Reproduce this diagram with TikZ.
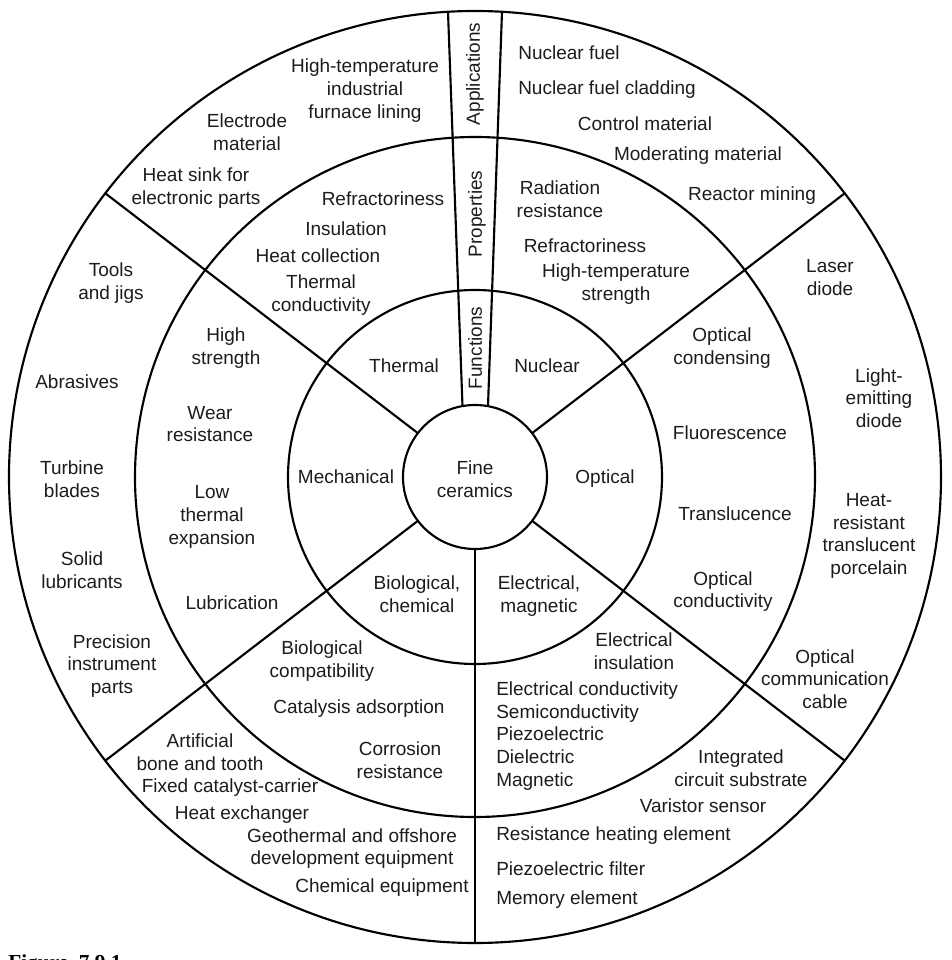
\documentclass[tikz,border=0pt]{standalone}
\usepackage{fontspec}
\setmainfont{Liberation Sans}
\newfontfamily\capfont{Liberation Serif}
\usepackage{xcolor}
\usepackage{tikz}
\definecolor{cink}{RGB}{28,28,28}
\tikzset{
  rim/.style={line width=1.6pt, color=black},
  lbl/.style={font=\fontsize{14.25}{17}\selectfont, text=cink,
              align=center, inner sep=0pt},
  lst/.style={lbl, align=left, anchor=west},
  band/.style={lbl, rotate=90},
  figcap/.style={font=\capfont\bfseries\fontsize{16}{19}\selectfont,
                 inner sep=0pt, anchor=base west},
}

\begin{document}
\begin{tikzpicture}[x=0.75pt, y=0.75pt]
  \useasboundingbox (-475,-483) rectangle (476,477);
  \clip (-475,-483) rectangle (476,477);

  % ── Rings ──────────────────────────────────────────────────────────────────
  \draw[rim] (0,0) circle[radius=72];
  \draw[rim] (0,0) circle[radius=187];
  \draw[rim] (0,0) circle[radius=340];
  \draw[rim] (0,0) circle[radius=466];

  % ── Sector dividers ────────────────────────────────────────────────────────
  \foreach \a in {37.5, 142.5, 217.5, 270, 322.5}
    \draw[rim] (\a:72) -- (\a:466);
  \draw[rim] (-12.5,70.9) -- (-27,465.2);
  \draw[rim] (13,70.8) -- (27,465.2);

  % ── Band labels ────────────────────────────────────────────────────────────
  \node[band] at (0,403) (appl) {Applications};
  \node[band] at (2,263) (prop) {Properties};
  \node[band] at (0,129) (func) {Functions};

  % ── Centre + functions ─────────────────────────────────────────────────────
  \node[lbl] at (0,-2)     (core)    {Fine\\ceramics};
  \node[lbl] at (-71,111)  (fthermal) {Thermal};
  \node[lbl] at (72,111)   (fnuclear) {Nuclear};
  \node[lbl] at (-129,0)   (fmech)   {Mechanical};
  \node[lbl] at (130,-2)   (foptic)  {Optical};
  \node[lbl] at (64,-119)  (felec)   {Electrical,\\magnetic};
  \node[lbl] at (-58,-117) (fbio)    {Biological,\\chemical};

  % ── Thermal ────────────────────────────────────────────────────────────────
  \node[lbl] at (-92,278)  (trefr)  {Refractoriness};
  \node[lbl] at (-129,248) (tinsul) {Insulation};
  \node[lbl] at (-157,221) (tcoll)  {Heat collection};
  \node[lbl] at (-154,182) (tcond)  {Thermal\\conductivity};
  \node[lbl] at (-110,386.5) (tfurn) {High-temperature\\industrial\\furnace lining};
  \node[lbl] at (-228,345) (telec)  {Electrode\\material};
  \node[lbl] at (-279,289) (tsink)  {Heat sink for\\electronic parts};

  % ── Nuclear ────────────────────────────────────────────────────────────────
  \node[lbl] at (85,277.5) (nrad)   {Radiation\\resistance};
  \node[lbl] at (110,231)  (nrefr)  {Refractoriness};
  \node[lbl] at (141,193)  (nhts)   {High-temperature\\strength};
  \node[lbl] at (94,424)   (nfuel)  {Nuclear fuel};
  \node[lbl] at (132,387)  (nclad)  {Nuclear fuel cladding};
  \node[lbl] at (170,353)  (nctrl)  {Control material};
  \node[lbl] at (223,321)  (nmod)   {Moderating material};
  \node[lbl] at (277,281)  (nmine)  {Reactor mining};

  % ── Optical ────────────────────────────────────────────────────────────────
  \node[lbl] at (247,129)  (ocond)  {Optical\\condensing};
  \node[lbl] at (255,44)   (ofluo)  {Fluorescence};
  \node[lbl] at (260,-37)  (otrans) {Translucence};
  \node[lbl] at (248,-114.5) (ocdv) {Optical\\conductivity};
  \node[lbl] at (355,199.5) (olaser) {Laser\\diode};
  \node[lbl] at (404,79)   (oled)   {Light-\\emitting\\diode};
  \node[lbl] at (394,-59)  (oporc)  {Heat-\\resistant\\translucent\\porcelain};
  \node[lbl] at (350,-202) (ocable) {Optical\\communication\\cable};

  % ── Electrical, magnetic ───────────────────────────────────────────────────
  \node[lbl] at (159,-174.5) (einsul) {Electrical\\insulation};
  \node[lst] at (21,-259)  (elist)
      {Electrical conductivity\\Semiconductivity\\Piezoelectric\\Dielectric\\Magnetic};
  \node[lbl] at (266,-291) (eic)    {Integrated\\circuit substrate};
  \node[lbl] at (228,-329) (evar)   {Varistor sensor};
  \node[lst] at (21,-359)  (eheat)  {Resistance heating element};
  \node[lst] at (21,-392)  (efilt)  {Piezoelectric filter};
  \node[lst] at (21,-423)  (emem)   {Memory element};

  % ── Biological, chemical ───────────────────────────────────────────────────
  \node[lbl] at (-153,-184) (bcomp) {Biological\\compatibility};
  \node[lbl] at (-116,-232) (bcat)  {Catalysis adsorption};
  \node[lbl] at (-75,-283)  (bcorr) {Corrosion\\resistance};
  \node[lbl] at (-275,-275) (bbone) {Artificial\\bone and tooth};
  \node[lbl] at (-245,-311) (bfix)  {Fixed catalyst-carrier};
  \node[lbl] at (-233,-338) (bhex)  {Heat exchanger};
  \node[lbl] at (-123,-371.5) (bgeo) {Geothermal and offshore\\development equipment};
  \node[lbl] at (-93,-411)  (bchem) {Chemical equipment};

  % ── Mechanical ─────────────────────────────────────────────────────────────
  \node[lbl] at (-249,129)  (mhigh) {High\\strength};
  \node[lbl] at (-265,53)   (mwear) {Wear\\resistance};
  \node[lbl] at (-263,-40)  (mlow)  {Low\\thermal\\expansion};
  \node[lbl] at (-243,-126) (mlub)  {Lubrication};
  \node[lbl] at (-364,194)  (mtool) {Tools\\and jigs};
  \node[lbl] at (-398,95)   (mabr)  {Abrasives};
  \node[lbl] at (-403,-2)   (mturb) {Turbine\\blades};
  \node[lbl] at (-393,-93)  (msol)  {Solid\\lubricants};
  \node[lbl] at (-363,-189) (mprec) {Precision\\instrument\\parts};

  % ── Caption (cut by the page edge) ─────────────────────────────────────────
  \node[figcap] at (-467,-492) (caption) {Figure\hspace{8pt}7.9.1};
\end{tikzpicture}
\end{document}
